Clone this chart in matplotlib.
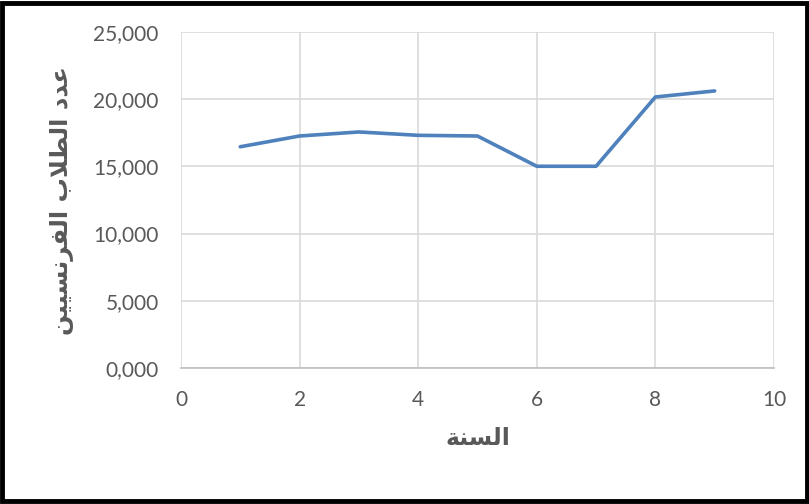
import matplotlib
matplotlib.use("Agg")
import matplotlib.pyplot as plt
from matplotlib.patches import Rectangle
from matplotlib.ticker import FuncFormatter

# student counts per year
years = [1, 2, 3, 4, 5, 6, 7, 8, 9]
students = [16450, 17250, 17550, 17300, 17250, 15000, 15000, 20150, 20600]

# Arabic labels, pre-shaped (presentation forms, visual order) since matplotlib does no shaping
x_label = "\uFE94\uFEE8\uFEB4\uFEDF\uFE8D"  # السنة
y_label = ("\uFEE6\uFEF4\uFEF4\uFEB4\uFEE7\uFEAE\uFED4\uFEDF\uFE8D" + " "
           + "\uFE8F\uFEFC\uFEC4\uFEDF\uFE8D" + " "
           + "\uFEA9\uFEAA\uFECB")  # عدد الطلاب الفرنسيين

text_color = "#595959"
grid_color = "#d9d9d9"

fig = plt.figure(figsize=(8.09, 5.04), dpi=100)
ax = fig.add_axes([0.2237, 0.2698, 0.7330, 0.6672])

ax.plot(years, students, color="#4f81bd", linewidth=2.6, solid_capstyle="round", zorder=3)

ax.set_xlim(0, 10)
ax.set_ylim(0, 25000)
ax.set_xticks(range(0, 11, 2))
ax.set_yticks(range(0, 25001, 5000))
ax.yaxis.set_major_formatter(FuncFormatter(lambda v, p: "0,000" if v == 0 else f"{int(v):,}"))

ax.grid(True, color=grid_color, linewidth=1.2)
ax.set_axisbelow(True)
for side in ["top", "right", "left"]:
    ax.spines[side].set_visible(False)
ax.spines["bottom"].set_color("#bfbfbf")
ax.spines["bottom"].set_linewidth(1.2)

ax.tick_params(length=0, labelsize=15, labelcolor=text_color)
ax.tick_params(axis="y", pad=16)
ax.tick_params(axis="x", pad=16)
for lbl in ax.get_xticklabels() + ax.get_yticklabels():
    lbl.set_fontfamily("Lato")

fig.text(0.591, 0.131, x_label, ha="center", va="center", fontsize=17,
         fontweight="bold", color=text_color, family=["DejaVu Sans"])
fig.text(0.077, 0.603, y_label, ha="center", va="center", rotation=90, fontsize=17.5,
         fontweight="bold", color=text_color, family=["DejaVu Sans"])

# black frame around the whole figure
fig.patches.append(Rectangle((0.003, 0.005), 0.994, 0.99, transform=fig.transFigure,
                             fill=False, edgecolor="black", linewidth=3.5))

fig.savefig("out.png", dpi=100)
